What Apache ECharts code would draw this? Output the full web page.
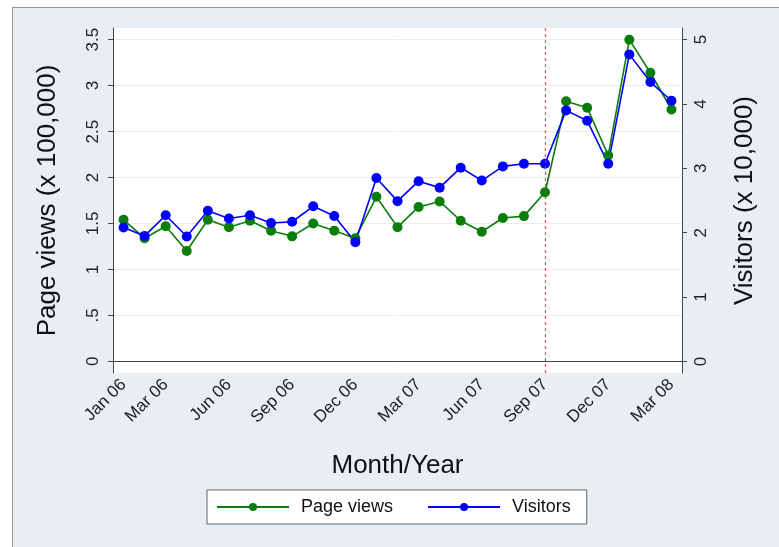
<!DOCTYPE html>
<html>
<head>
<meta charset="utf-8">
<script src="https://cdn.jsdelivr.net/npm/echarts@6/dist/echarts.min.js"></script>
<style>
html,body{margin:0;padding:0;background:#ffffff;}
#frame{position:absolute;left:12px;top:7px;width:800px;height:600px;background:#e8eef2;border:1px solid #9a9a9a;}
#chart{position:absolute;left:0;top:0;width:779px;height:547px;}
</style>
</head>
<body>
<div id="frame"></div>
<div id="chart"></div>
<script>
const months = ['Jan 06','Feb 06','Mar 06','Apr 06','May 06','Jun 06','Jul 06','Aug 06','Sep 06','Oct 06','Nov 06','Dec 06',
  'Jan 07','Feb 07','Mar 07','Apr 07','May 07','Jun 07','Jul 07','Aug 07','Sep 07','Oct 07','Nov 07','Dec 07',
  'Jan 08','Feb 08','Mar 08'];
const pageViews = [1.54,1.34,1.47,1.20,1.54,1.46,1.53,1.42,1.36,1.50,1.42,1.34,1.79,1.46,1.68,1.74,1.53,1.41,1.56,1.58,1.84,2.83,2.76,2.24,3.50,3.14,2.74];
const visitors = [2.08,1.95,2.27,1.94,2.34,2.22,2.27,2.15,2.17,2.41,2.26,1.85,2.85,2.49,2.80,2.70,3.01,2.81,3.03,3.07,3.07,3.90,3.74,3.07,4.77,4.34,4.05];
const xTickLabels = ['Jan 06','Mar 06','Jun 06','Sep 06','Dec 06','Mar 07','Jun 07','Sep 07','Dec 07','Mar 08'];
const leftTicks = [0,0.5,1,1.5,2,2.5,3,3.5];
const rightTicks = [0,1,2,3,4,5];
const eventMonth = 'Sep 07';

const FONT = 'Liberation Sans, Arial, sans-serif';
const showX = (i) => xTickLabels.indexOf(months[i]) >= 0;
const chart = echarts.init(document.getElementById('chart'));
chart.setOption({
  backgroundColor: 'transparent',
  animation: false,
  textStyle: {fontFamily: FONT},
  grid: {left: 113, right: 97, top: 28, bottom: 174, show: true, backgroundColor: '#ffffff', borderWidth: 0},
  legend: {
    left: 207, top: 490,
    padding: [8, 16, 8, 9],
    backgroundColor: '#ffffff', borderColor: '#666', borderWidth: 1,
    itemWidth: 72, itemHeight: 10, itemGap: 34,
    textStyle: {fontSize: 18, color: '#111', fontFamily: FONT, padding: [0, 0, 0, 7]},
    data: ['Page views', 'Visitors']
  },
  xAxis: {
    type: 'category', data: months, boundaryGap: true,
    name: 'Month/Year', nameLocation: 'middle', nameGap: 80,
    nameTextStyle: {fontSize: 26, color: '#111', fontFamily: FONT},
    axisLine: {lineStyle: {color: '#444', width: 1}},
    axisTick: {alignWithLabel: true, length: 5, interval: (i) => showX(i), lineStyle: {color: '#444'}},
    axisLabel: {interval: (i) => showX(i), rotate: 45, fontSize: 17, color: '#222', margin: 9, fontFamily: FONT},
    splitLine: {show: false}
  },
  yAxis: [{
    type: 'value', min: -0.127, max: 3.627, position: 'left',
    name: 'Page views (x 100,000)', nameLocation: 'middle', nameGap: 52, nameRotate: 90,
    nameTextStyle: {fontSize: 26, color: '#111', fontFamily: FONT},
    axisLine: {show: true, lineStyle: {color: '#444', width: 1}},
    axisTick: {show: true, length: 5, customValues: leftTicks, lineStyle: {color: '#444'}},
    axisLabel: {customValues: leftTicks, rotate: 90, fontSize: 17, color: '#222', margin: 11, fontFamily: FONT,
      formatter: (v) => String(v).replace(/^0\./, '.')},
    splitLine: {show: true, lineStyle: {color: '#ebebeb', width: 1}}
  }, {
    type: 'value', min: -0.18, max: 5.18, position: 'right',
    name: 'Visitors (x 10,000)', nameLocation: 'middle', nameGap: 50, nameRotate: 90,
    nameTextStyle: {fontSize: 26, color: '#111', fontFamily: FONT},
    axisLine: {show: true, lineStyle: {color: '#444', width: 1}},
    axisTick: {show: true, length: 5, customValues: rightTicks, lineStyle: {color: '#444'}},
    axisLabel: {customValues: rightTicks, rotate: 90, fontSize: 17, color: '#222', margin: 11, fontFamily: FONT},
    splitLine: {show: false}
  }],
  series: [{
    name: 'Page views', type: 'line', yAxisIndex: 0, data: pageViews,
    symbol: 'circle', symbolSize: 10,
    itemStyle: {color: '#0a7d0a'}, lineStyle: {color: '#0a7d0a', width: 1.6},
    markLine: {
      silent: true, symbol: 'none', label: {show: false},
      lineStyle: {color: '#ff2020', width: 1.2, type: [3, 3], opacity: 0.8},
      data: [{xAxis: eventMonth, lineStyle: {color: '#ff2020'}}]
    }
  }, {
    name: 'Visitors', type: 'line', yAxisIndex: 1, data: visitors,
    symbol: 'circle', symbolSize: 10,
    itemStyle: {color: '#0000ff'}, lineStyle: {color: '#0000ff', width: 1.6}
  }]
});
</script>
</body>
</html>
